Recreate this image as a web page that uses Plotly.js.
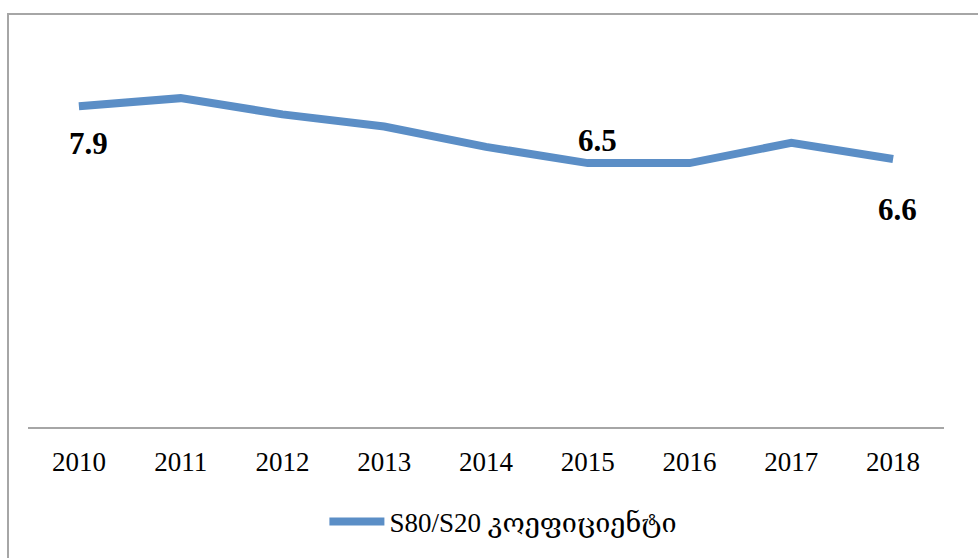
<!DOCTYPE html>
<html>
<head>
<meta charset="utf-8">
<script src="https://cdn.plot.ly/plotly-3.0.1.min.js"></script>
<style>
  html, body { margin: 0; padding: 0; background: #fff; }
  #wrap { position: relative; width: 978px; height: 558px; overflow: hidden; }
  #frame { position: absolute; left: 7px; top: 13px; width: 1000px; height: 600px;
           border-left: 2px solid #a6a6a6; border-top: 2px solid #a6a6a6; box-sizing: border-box; pointer-events: none; }
  #chart { position: absolute; left: 0; top: 0; width: 978px; height: 558px; }
</style>
</head>
<body>
<div id="wrap">
  <div id="chart"></div>
  <div id="frame"></div>
</div>
<script>
const years = [2010, 2011, 2012, 2013, 2014, 2015, 2016, 2017, 2018];
const yearLabels = ['2010', '2011', '2012', '2013', '2014', '2015', '2016', '2017', '2018'];
const s80s20 = [7.9, 8.1, 7.7, 7.4, 6.9, 6.5, 6.5, 7.0, 6.6];
const seriesName = 'S80/S20 კოეფიციენტი';
const labelYears = [2010, 2015, 2018];
const labelShifts = { 2010: [10, -37], 2015: [10, 23], 2018: [4, -50] };

const serif = 'Liberation Serif, DejaVu Serif, serif';

const annotations = labelYears.map(y => {
  const i = years.indexOf(y);
  return {
    x: y, y: s80s20[i], xref: 'x', yref: 'y',
    text: '<b>' + s80s20[i].toFixed(1) + '</b>',
    showarrow: false,
    xshift: labelShifts[y][0], yshift: labelShifts[y][1],
    font: { family: serif, size: 31, color: '#000' }
  };
});

const trace = {
  x: years, y: s80s20, type: 'scatter', mode: 'lines',
  name: seriesName,
  line: { color: '#5b8ec6', width: 8 },
  hoverinfo: 'skip'
};

const layout = {
  width: 978, height: 558,
  margin: { l: 28, r: 34, t: 21, b: 131 },
  paper_bgcolor: 'rgba(0,0,0,0)', plot_bgcolor: 'rgba(0,0,0,0)',
  showlegend: true,
  legend: {
    orientation: 'h', x: 0.519, xanchor: 'center', y: -0.234, yanchor: 'middle',
    itemwidth: 55,
    font: { family: serif, size: 27, color: '#000' }
  },
  xaxis: {
    type: 'linear', range: [2009.5, 2018.5],
    tickmode: 'array', tickvals: years, ticktext: yearLabels,
    showline: true, linecolor: '#a6a6a6', linewidth: 2,
    showgrid: false, zeroline: false, ticks: '',
    ticklabelstandoff: 10,
    tickfont: { family: serif, size: 27, color: '#000' }
  },
  yaxis: { range: [0, 10], visible: false, showgrid: false, zeroline: false },
  annotations: annotations
};

Plotly.newPlot('chart', [trace], layout, { staticPlot: true, displayModeBar: false });
</script>
</body>
</html>
